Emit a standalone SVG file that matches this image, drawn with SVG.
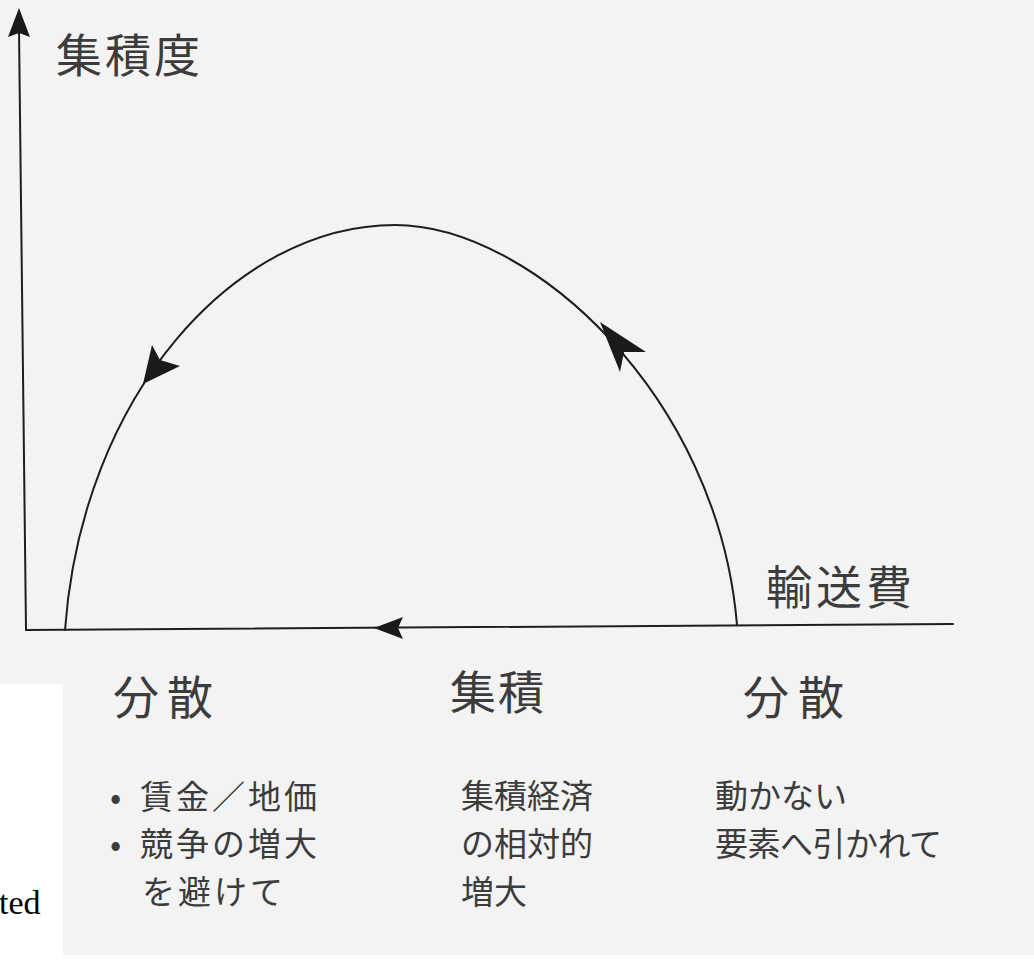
<svg xmlns="http://www.w3.org/2000/svg" width="1034" height="965" viewBox="0 0 1034 965">
  <style>
    .ln { fill: none; stroke: #1e1e1e; stroke-width: 2; stroke-linecap: round; }
    .head { fill: #1a1a1a; stroke: none; }
    .big { font-family: "Noto Sans CJK JP", "Noto Sans CJK SC", sans-serif; font-size: 46px; fill: #3c3c3c; }
    .small { font-family: "Noto Sans CJK JP", "Noto Sans CJK SC", sans-serif; font-size: 33px; fill: #3c3c3c; }
    .bul { font-family: "Noto Sans CJK JP", "Noto Sans CJK SC", sans-serif; font-size: 33px; fill: #3c3c3c; letter-spacing: 3px; }
    .serif { font-family: "Liberation Serif", serif; font-size: 34px; fill: #000; }
  </style>
  <rect x="0" y="0" width="1034" height="965" fill="#ffffff"/>
  <rect x="0" y="0" width="1034" height="955" fill="#f3f3f3"/>
  <rect x="0" y="684" width="63" height="281" fill="#ffffff"/>

  <g id="connectors">
    <line class="ln" x1="19" y1="30" x2="26" y2="630"/>
    <polygon class="head" points="19,8 30,37 19,33 8,37"/>
    <line class="ln" x1="26" y1="630" x2="953" y2="624"/>
    <polygon class="head" points="374,628 403,617 398,628 403,639"/>
    <path class="ln" d="M65,630 C82,395 235,225 395,225 C530,225 718,395 737,625"/>
    <polygon class="head" points="143,384 152,345 160,360 180,366"/>
    <polygon class="head" points="600,322 646,352 624,352 620,372"/>
  </g>

  <g id="y-axis-label"><text class="big" x="56" y="72" letter-spacing="3">集積度</text></g>
  <g id="x-axis-label"><text class="big" x="766" y="604" letter-spacing="4">輸送費</text></g>

  <g id="stage-left">
    <text class="big" x="113" y="714" letter-spacing="8">分散</text>
    <text class="bul" x="110" y="809">•</text>
    <text class="bul" x="140" y="809">賃金／地価</text>
    <text class="bul" x="110" y="856">•</text>
    <text class="bul" x="140" y="856">競争の増大</text>
    <text class="bul" x="142" y="904">を避けて</text>
  </g>

  <g id="stage-middle">
    <text class="big" x="450" y="709" letter-spacing="2">集積</text>
    <text class="small" x="461" y="808">集積経済</text>
    <text class="small" x="461" y="856">の相対的</text>
    <text class="small" x="461" y="904">増大</text>
  </g>

  <g id="stage-right">
    <text class="big" x="743" y="714" letter-spacing="9">分散</text>
    <text class="small" x="715" y="808">動かない</text>
    <text class="small" x="715" y="856" letter-spacing="-0.5">要素へ引かれて</text>
  </g>

  <g id="fragment"><text class="serif" x="-1" y="914">ted</text></g>
</svg>
